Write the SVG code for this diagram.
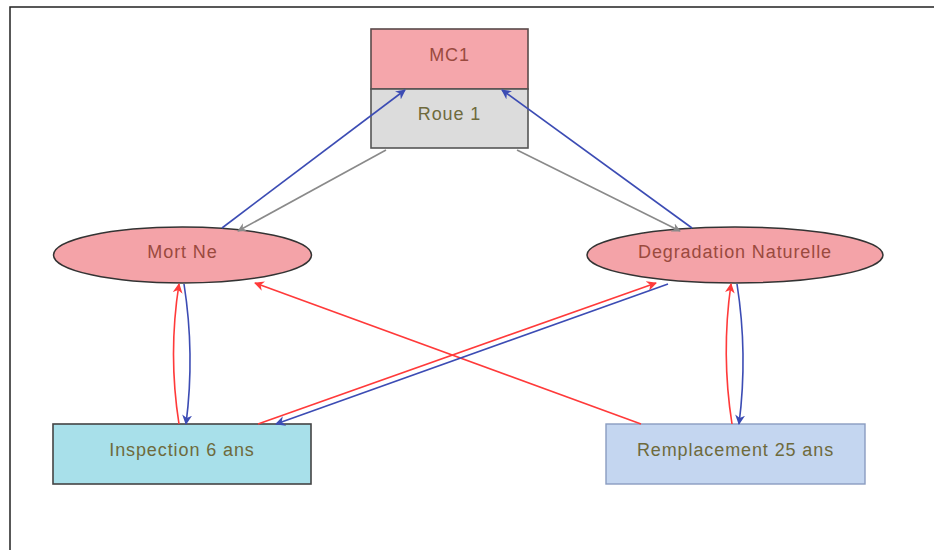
<svg xmlns="http://www.w3.org/2000/svg" width="934" height="550" viewBox="0 0 934 550">
  <style>
    .lbl { font-family: "Liberation Sans", Arial, sans-serif; font-size: 18px; letter-spacing: 0.9px; text-anchor: middle; dominant-baseline: central; }
    .red-t { fill: #9a4a3e; }
    .olive-t { fill: #6e6a3c; }
    .edge { fill: none; stroke-width: 1.6; }
    .gray { stroke: #8a8a8a; }
    .blue { stroke: #3c4cb4; }
    .red { stroke: #ff3a3a; }
  </style>
  <defs>
    <marker id="ah-gray" viewBox="0 0 10 10" refX="9" refY="5" markerWidth="9" markerHeight="9" orient="auto" markerUnits="userSpaceOnUse">
      <path d="M0,0 L10,5 L0,10 L3,5 z" fill="#8a8a8a"/>
    </marker>
    <marker id="ah-blue" viewBox="0 0 10 10" refX="9" refY="5" markerWidth="10" markerHeight="10" orient="auto" markerUnits="userSpaceOnUse">
      <path d="M0,0 L10,5 L0,10 L3,5 z" fill="#3c4cb4"/>
    </marker>
    <marker id="ah-red" viewBox="0 0 10 10" refX="9" refY="5" markerWidth="10" markerHeight="10" orient="auto" markerUnits="userSpaceOnUse">
      <path d="M0,0 L10,5 L0,10 L3,5 z" fill="#ff3a3a"/>
    </marker>
  </defs>

  <rect width="934" height="550" fill="#ffffff"/>
  <!-- frame -->
  <path d="M10,550 V7 H934" fill="none" stroke="#222" stroke-width="1.5"/>

  <g id="mc1">
    <rect x="371" y="29" width="157" height="60" fill="#f5a6ab" stroke="#5a4a4a" stroke-width="1.6"/>
    <text class="lbl red-t" x="449.5" y="55">MC1</text>
  </g>
  <g id="roue1">
    <rect x="371" y="89" width="157" height="59" fill="#dcdcdc" stroke="#555" stroke-width="1.6"/>
    <text class="lbl olive-t" x="449.5" y="114">Roue 1</text>
  </g>

  <g id="mort-ne">
    <ellipse cx="182.5" cy="255" rx="129" ry="28" fill="#f4a3a8" stroke="#333" stroke-width="1.5"/>
    <text class="lbl red-t" x="182.5" y="252">Mort Ne</text>
  </g>
  <g id="degradation">
    <ellipse cx="735" cy="255" rx="148" ry="28" fill="#f4a3a8" stroke="#333" stroke-width="1.5"/>
    <text class="lbl red-t" x="735" y="252">Degradation Naturelle</text>
  </g>

  <g id="inspection">
    <rect x="53" y="424" width="258" height="60" fill="#a8e0ea" stroke="#444" stroke-width="1.6"/>
    <text class="lbl olive-t" x="182" y="450">Inspection 6 ans</text>
  </g>
  <g id="remplacement">
    <rect x="606" y="424" width="259" height="60" fill="#c4d6f0" stroke="#8a9cc0" stroke-width="1.4"/>
    <text class="lbl olive-t" x="735.5" y="450">Remplacement 25 ans</text>
  </g>

  <g id="connectors">
    <!-- Roue 1 to failure modes -->
    <path class="edge gray" d="M386,150 L238,231" marker-end="url(#ah-gray)"/>
    <path class="edge gray" d="M517,150 L680,231" marker-end="url(#ah-gray)"/>
    <!-- failure modes back to MC1 -->
    <path class="edge blue" d="M222,228 L405,90" marker-end="url(#ah-blue)"/>
    <path class="edge blue" d="M692,228 L502,90" marker-end="url(#ah-blue)"/>
    <!-- crossing links -->
    <path class="edge red" d="M641,424 L255,283" marker-end="url(#ah-red)"/>
    <path class="edge red" d="M258,424 L656,283" marker-end="url(#ah-red)"/>
    <path class="edge blue" d="M668,284 L276,424" marker-end="url(#ah-blue)"/>
    <!-- Mort Ne <-> Inspection -->
    <path class="edge red" d="M179,424 Q168,354 179,284" marker-end="url(#ah-red)"/>
    <path class="edge blue" d="M184,284 Q195,354 186,424" marker-end="url(#ah-blue)"/>
    <!-- Degradation <-> Remplacement -->
    <path class="edge red" d="M732,424 Q721,354 731,284" marker-end="url(#ah-red)"/>
    <path class="edge blue" d="M737,284 Q748,354 739,424" marker-end="url(#ah-blue)"/>
  </g>
</svg>
